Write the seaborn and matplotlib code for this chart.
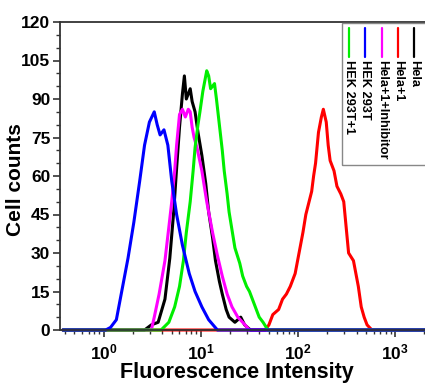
import numpy as np
import pandas as pd
import matplotlib
matplotlib.use("Agg")
import matplotlib.pyplot as plt
import seaborn as sns
from matplotlib.lines import Line2D
from matplotlib.patches import Rectangle

# --- DATA (x given as log10 of fluorescence intensity) ---
hela_x = [0.42, 0.49, 0.56, 0.63, 0.68, 0.72, 0.75, 0.78, 0.81, 0.83, 0.85, 0.89, 0.91, 0.94,
          0.97, 1.01, 1.05, 1.08, 1.12, 1.15, 1.19, 1.22, 1.26, 1.29, 1.35, 1.41, 1.45, 1.51]
hela_y = [0, 2, 3, 12, 28, 46, 63, 79, 92, 99, 90, 94, 89, 85,
          77, 68, 57, 46, 36, 27, 19, 14, 8, 5, 3, 5, 2, 0]

hela1_x = [1.66, 1.70, 1.74, 1.80, 1.84, 1.88, 1.92, 1.97, 2.02, 2.05, 2.08, 2.14, 2.16, 2.18,
           2.21, 2.24, 2.26, 2.29, 2.31, 2.33, 2.37, 2.40, 2.44, 2.47, 2.50, 2.52, 2.57, 2.62,
           2.65, 2.68, 2.71, 2.76]
hela1_y = [0, 2, 6, 8, 12, 14, 17, 22, 32, 38, 45, 54, 60, 65,
           77, 83, 86, 81, 72, 66, 62, 56, 53, 50, 38, 30, 27, 17,
           9, 5, 2, 0]

inhib_x = [0.49, 0.52, 0.57, 0.63, 0.67, 0.70, 0.73, 0.75, 0.78, 0.81, 0.84, 0.87, 0.89, 0.91,
           0.93, 0.96, 1.01, 1.06, 1.12, 1.17, 1.22, 1.27, 1.32, 1.38, 1.43, 1.50]
inhib_y = [0, 5, 14, 27, 40, 50, 62, 72, 84, 86, 83, 86, 85, 79,
           75, 71, 62, 50, 38, 29, 21, 14, 9, 5, 3, 0]

hek_x = [0.02, 0.07, 0.13, 0.18, 0.25, 0.31, 0.37, 0.42, 0.47, 0.52, 0.55, 0.58, 0.62, 0.66,
         0.70, 0.75, 0.81, 0.88, 0.94, 1.01, 1.08, 1.17]
hek_y = [0, 1, 4, 14, 28, 42, 58, 72, 81, 85, 80, 76, 78, 72,
         58, 45, 33, 22, 15, 9, 4, 0]

hek1_x = [0.59, 0.67, 0.73, 0.78, 0.82, 0.85, 0.89, 0.92, 0.94, 0.97, 0.99, 1.02, 1.04, 1.06,
          1.08, 1.10, 1.14, 1.16, 1.19, 1.22, 1.24, 1.27, 1.29, 1.32, 1.35, 1.40, 1.43, 1.47,
          1.50, 1.53, 1.56, 1.60, 1.64, 1.69]
hek1_y = [0, 3, 9, 17, 27, 38, 50, 62, 71, 80, 85, 93, 97, 101,
          99, 94, 96, 90, 80, 70, 62, 53, 46, 39, 32, 26, 21, 17,
          15, 12, 9, 5, 3, 0]

labels = ["Hela", "Hela+1", "Hela+1+Inhibitor", "HEK 293T", "HEK 293T+1"]
colors = ["black", "#ff0000", "#ff00ff", "#0000ff", "#00ee00"]
y_ticks = [0, 15, 30, 45, 60, 75, 90, 105, 120]
x_lo, x_hi = -0.45, 3.35

series = {
    "Hela": (hela_x, hela_y),
    "Hela+1": (hela1_x, hela1_y),
    "Hela+1+Inhibitor": (inhib_x, inhib_y),
    "HEK 293T": (hek_x, hek_y),
    "HEK 293T+1": (hek1_x, hek1_y),
}

sns.set_theme(style="white")
plt.rcParams["font.family"] = ["Liberation Sans", "DejaVu Sans"]
plt.rcParams["font.weight"] = "bold"
plt.rcParams["text.color"] = "black"
plt.rcParams["axes.labelcolor"] = "black"
plt.rcParams["xtick.color"] = "black"
plt.rcParams["ytick.color"] = "black"
plt.rcParams["mathtext.fontset"] = "custom"
plt.rcParams["mathtext.rm"] = "Liberation Sans:bold"
plt.rcParams["mathtext.it"] = "Liberation Sans:bold"
plt.rcParams["mathtext.bf"] = "Liberation Sans:bold"

fig = plt.figure(figsize=(4.25, 3.83), dpi=100)
ax = fig.add_axes([60 / 425, 1 - 330 / 383, 1 - 60 / 425 + 0.01, (330 - 22) / 383])

frames = []
for name in labels:
    xs, ys = series[name]
    # pad with zero counts across the full range
    xs = [x_lo + 0.03] + list(xs) + [x_hi]
    ys = [0] + list(ys) + [0]
    frames.append(pd.DataFrame({"intensity": 10 ** np.array(xs), "count": ys, "sample": name}))
df = pd.concat(frames, ignore_index=True)

draw_order = ["Hela+1", "Hela", "Hela+1+Inhibitor", "HEK 293T+1", "HEK 293T"]
for name in draw_order:
    sub = df[df["sample"] == name]
    sns.lineplot(data=sub, x="intensity", y="count", color=colors[labels.index(name)],
                 lw=2.2, sort=False, estimator=None, ax=ax, clip_on=False)

ax.set_xscale("log")
ax.set_xlim(10 ** x_lo, 10 ** x_hi)
ax.set_ylim(0, 120)
ax.set_yticks(y_ticks)
ax.set_yticks(np.arange(0, 121, 5), minor=True)
ax.xaxis.set_major_locator(matplotlib.ticker.LogLocator(base=10))
ax.xaxis.set_minor_locator(matplotlib.ticker.LogLocator(base=10, subs=np.arange(2, 10)))
ax.xaxis.set_minor_formatter(matplotlib.ticker.NullFormatter())

for s in ["left", "top", "bottom"]:
    ax.spines[s].set_color("#333333")
    ax.spines[s].set_linewidth(1.3)
ax.spines["right"].set_visible(False)

ax.tick_params(bottom=True, left=True, top=False, right=False, which="both")
ax.tick_params(axis="both", which="major", direction="out", length=5, width=1.2,
               color="#333333", labelsize=12.5, pad=2)
ax.tick_params(axis="both", which="minor", direction="out", length=3, width=1,
               color="#333333")
ax.tick_params(axis="x", which="major", pad=4)

ax.set_xlabel("Fluorescence Intensity", fontsize=15.5, fontweight="bold")
ax.set_ylabel("Cell counts", fontsize=15, fontweight="bold")
ax.xaxis.set_label_coords(0.48, -0.105)
ax.yaxis.set_label_coords(-0.095, 0.49)

# rotated legend box at the top right
fig.add_artist(Rectangle((342 / 425, 1 - 165 / 383), 0.3, (165 - 23) / 383,
                         transform=fig.transFigure, fill=False, edgecolor="#888888", lw=1))
leg_x = {"HEK 293T+1": 349, "HEK 293T": 365, "Hela+1+Inhibitor": 382, "Hela+1": 398, "Hela": 414}
for name in labels:
    px = leg_x[name] / 425
    fig.add_artist(Line2D([px, px], [1 - 28 / 383, 1 - 57 / 383], transform=fig.transFigure,
                          color=colors[labels.index(name)], lw=1.6))
    fig.text(px, 1 - 60 / 383, name, rotation=270, ha="center", va="top",
             fontsize=9.2, fontweight="bold")

fig.savefig("out.png", dpi=100)
